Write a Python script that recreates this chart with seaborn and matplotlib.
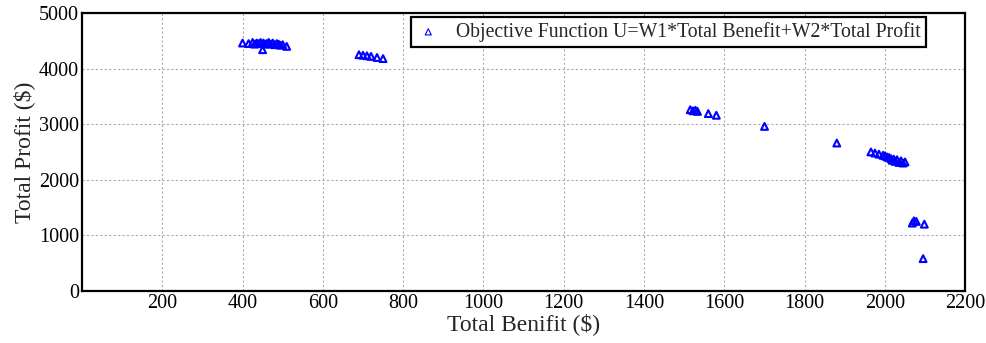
import matplotlib
matplotlib.use("Agg")
import matplotlib.pyplot as plt
import seaborn as sns
import pandas as pd

benefit = [400, 415, 425, 430, 435, 440, 445, 450, 452, 455, 460, 465, 470, 475, 480, 485, 490, 495, 500, 510,
           690, 700, 710, 720, 735, 750,
           1515, 1522, 1528, 1533, 1560, 1580,
           1700, 1880,
           1965, 1975, 1985, 1995, 2000, 2005, 2010, 2015, 2018, 2022, 2025, 2030, 2035, 2040, 2045, 2050,
           2068, 2072, 2078, 2098, 2095]
profit = [4460, 4450, 4470, 4440, 4460, 4450, 4470, 4340, 4460, 4440, 4450, 4470, 4440, 4460, 4430, 4450, 4440, 4420, 4430, 4400,
          4250, 4240, 4230, 4220, 4200, 4180,
          3260, 3240, 3250, 3230, 3190, 3160,
          2960, 2660,
          2500, 2480, 2460, 2440, 2430, 2410, 2400, 2380, 2350, 2370, 2330, 2360, 2310, 2340, 2300, 2320,
          1220, 1260, 1250, 1200, 580]
legend_label = "Objective Function U=W1*Total Benefit+W2*Total Profit"
xticks = [200, 400, 600, 800, 1000, 1200, 1400, 1600, 1800, 2000, 2200]
yticks = [0, 1000, 2000, 3000, 4000, 5000]

sns.set_style("white")
plt.rcParams["font.family"] = ["Liberation Serif", "DejaVu Serif"]

df = pd.DataFrame({"Total Benifit ($)": benefit, "Total Profit ($)": profit})

fig = plt.figure(figsize=(9.87, 3.43), dpi=100)
ax = fig.add_axes([0.083, 0.152, 0.895, 0.81])
sns.scatterplot(data=df, x="Total Benifit ($)", y="Total Profit ($)", ax=ax,
                marker="^", facecolors="none", edgecolor="blue", linewidth=1.5,
                s=24, label=legend_label, zorder=3)
ax.set_xlim(0, 2200)
ax.set_ylim(0, 5000)
ax.set_xticks(xticks)
ax.set_yticks(yticks)
ax.grid(True, linestyle=(0, (2, 2)), color="#aaaaaa", linewidth=0.8)
for s in ax.spines.values():
    s.set_linewidth(1.6)
    s.set_color("black")
ax.tick_params(direction="in", length=4, width=1.2, labelsize=14.5, colors="black", pad=2)
ax.set_xlabel("Total Benifit ($)", fontsize=17, labelpad=0)
ax.set_ylabel("Total Profit ($)", fontsize=17, labelpad=3)
leg = ax.legend(loc="upper right", bbox_to_anchor=(0.955, 0.985), fontsize=14.2, fancybox=False,
                framealpha=1, edgecolor="black", handlelength=1.2, handletextpad=0.8,
                borderpad=0.25, borderaxespad=0.0, markerscale=0.9)
leg.get_frame().set_linewidth(1.6)
for h in leg.legend_handles:
    h.set_linewidth(0.8)
    h.set_facecolor("none")
fig.savefig("out.png", dpi=100)
